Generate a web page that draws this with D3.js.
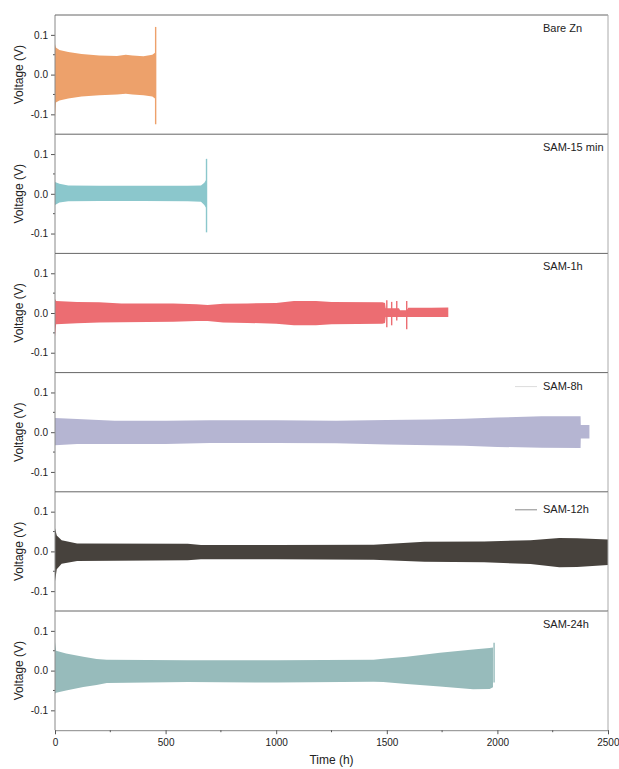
<!DOCTYPE html>
<html>
<head>
<meta charset="utf-8">
<script src="https://cdn.jsdelivr.net/npm/d3@7"></script>
<style>
  body { margin: 0; background: #fff; }
  text { font-family: Arial, "Liberation Sans", sans-serif; fill: #222; }
</style>
</head>
<body>
<svg width="619" height="769"></svg>
<script>
  // series names and colours
  const seriesNames = ['Bare Zn', 'SAM-15 min', 'SAM-1h', 'SAM-8h', 'SAM-12h', 'SAM-24h'];
  const seriesColors = ['#eda16b', '#8bc7cc', '#ec6d72', '#b5b5d2', '#47423d', '#97bbbb'];

  // envelopes of the cycling voltage: time (h), upper (V), lower (V)
  const bareZnTime  = [0, 4, 20, 60, 120, 200, 280, 320, 350, 400, 440, 452];
  const bareZnUpper = [0.077, 0.068, 0.062, 0.057, 0.052, 0.048, 0.047, 0.05, 0.048, 0.046, 0.05, 0.055];
  const bareZnLower = [-0.11, -0.07, -0.065, -0.06, -0.055, -0.052, -0.05, -0.048, -0.05, -0.052, -0.055, -0.06];

  const sam15Time  = [0, 20, 60, 200, 400, 600, 660, 675, 683];
  const sam15Upper = [0.03, 0.025, 0.021, 0.02, 0.02, 0.02, 0.021, 0.028, 0.035];
  const sam15Lower = [-0.028, -0.022, -0.019, -0.018, -0.018, -0.019, -0.02, -0.028, -0.035];

  const sam1Time  = [0, 5, 100, 200, 300, 535, 640, 690, 760, 870, 1000, 1080, 1180, 1250, 1480, 1492, 1495, 1555, 1560, 1590, 1597, 1700, 1778];
  const sam1Upper = [0.035, 0.03, 0.028, 0.027, 0.024, 0.024, 0.022, 0.02, 0.023, 0.024, 0.025, 0.03, 0.03, 0.028, 0.027, 0.025, 0.012, 0.012, 0.007, 0.007, 0.013, 0.013, 0.014];
  const sam1Lower = [-0.06, -0.028, -0.026, -0.024, -0.023, -0.022, -0.02, -0.02, -0.024, -0.025, -0.027, -0.031, -0.031, -0.028, -0.027, -0.025, -0.01, -0.01, -0.01, -0.01, -0.01, -0.01, -0.01];

  const sam8Time  = [0, 100, 270, 500, 700, 1000, 1270, 1500, 1700, 1850, 2000, 2200, 2376, 2377, 2416];
  const sam8Upper = [0.036, 0.033, 0.029, 0.029, 0.03, 0.03, 0.029, 0.031, 0.032, 0.034, 0.037, 0.04, 0.04, 0.018, 0.018];
  const sam8Lower = [-0.033, -0.03, -0.03, -0.03, -0.027, -0.027, -0.028, -0.031, -0.033, -0.034, -0.037, -0.039, -0.04, -0.016, -0.016];

  const sam12Time  = [0, 8, 30, 100, 600, 660, 1000, 1440, 1670, 1940, 2150, 2280, 2360, 2500];
  const sam12Upper = [0.058, 0.04, 0.028, 0.02, 0.019, 0.016, 0.016, 0.017, 0.024, 0.025, 0.028, 0.034, 0.033, 0.03];
  const sam12Lower = [-0.075, -0.045, -0.031, -0.024, -0.022, -0.02, -0.02, -0.021, -0.026, -0.027, -0.032, -0.04, -0.039, -0.034];

  const sam24Time  = [0, 5, 50, 128, 188, 234, 600, 1000, 1440, 1484, 1590, 1740, 1890, 1965, 1980];
  const sam24Upper = [0.072, 0.05, 0.043, 0.035, 0.029, 0.027, 0.026, 0.026, 0.027, 0.03, 0.035, 0.045, 0.053, 0.057, 0.058];
  const sam24Lower = [-0.058, -0.056, -0.05, -0.041, -0.036, -0.031, -0.029, -0.03, -0.028, -0.029, -0.034, -0.04, -0.047, -0.046, -0.042];

  // single spikes: panel index, time, top, bottom
  const spikePanel  = [0, 1, 2, 2, 2, 2, 5];
  const spikeTime   = [455, 685, 1500, 1522, 1545, 1590, 1985];
  const spikeTop    = [0.12, 0.088, 0.032, 0.028, 0.03, 0.03, 0.07];
  const spikeBottom = [-0.125, -0.097, -0.036, -0.031, -0.019, -0.041, -0.03];

  const yTicks = [-0.1, 0, 0.1];
  const yMinorTicks = [-0.05, 0.05];
  const xTicks = [0, 500, 1000, 1500, 2000, 2500];
  const xMinorTicks = [250, 750, 1250, 1750, 2250];

  const envelopes = [
    [bareZnTime, bareZnUpper, bareZnLower],
    [sam15Time, sam15Upper, sam15Lower],
    [sam1Time, sam1Upper, sam1Lower],
    [sam8Time, sam8Upper, sam8Lower],
    [sam12Time, sam12Upper, sam12Lower],
    [sam24Time, sam24Upper, sam24Lower]
  ];

  const svg = d3.select('svg');
  const plotLeft = 55, plotRight = 608, plotTop = 15, panelH = 119.2;

  const xScale = d3.scaleLinear().domain([0, 2500]).range([plotLeft, plotRight]);

  seriesNames.forEach((name, i) => {
    const y0 = plotTop + i * panelH;
    const yScale = d3.scaleLinear().domain([-0.15, 0.15]).range([y0 + panelH, y0]);
    const g = svg.append('g');

    const [t, up, lo] = envelopes[i];
    const pts = t.map((d, k) => ({ t: d, up: up[k], lo: lo[k] }));
    const area = d3.area()
      .x(d => xScale(d.t))
      .y0(d => yScale(d.lo))
      .y1(d => yScale(d.up));
    g.append('path')
      .datum(pts)
      .attr('d', area)
      .attr('fill', seriesColors[i]);

    spikeTime.forEach((st, k) => {
      if (spikePanel[k] !== i) return;
      g.append('line')
        .attr('x1', xScale(st)).attr('x2', xScale(st))
        .attr('y1', yScale(spikeTop[k])).attr('y2', yScale(spikeBottom[k]))
        .attr('stroke', seriesColors[i])
        .attr('stroke-width', 1.4);
    });

    // left axis
    const yAxis = d3.axisLeft(yScale)
      .tickValues(yTicks)
      .tickSize(4)
      .tickPadding(3)
      .tickFormat(d => d3.format('.1f')(d).replace('−', '-'));
    const yAxisG = g.append('g')
      .attr('transform', `translate(${plotLeft},0)`)
      .call(yAxis);
    yAxisG.select('.domain').remove();
    yAxisG.selectAll('line').attr('stroke', '#555');
    yAxisG.selectAll('text').attr('font-size', 10).attr('fill', '#222');
    yMinorTicks.forEach(v => {
      g.append('line')
        .attr('x1', plotLeft - 2).attr('x2', plotLeft)
        .attr('y1', yScale(v)).attr('y2', yScale(v))
        .attr('stroke', '#555');
    });

    // frame
    g.append('line')
      .attr('x1', plotLeft).attr('x2', plotLeft)
      .attr('y1', y0).attr('y2', y0 + panelH)
      .attr('stroke', '#888');
    g.append('line')
      .attr('x1', plotLeft).attr('x2', plotRight)
      .attr('y1', y0).attr('y2', y0)
      .attr('stroke', '#666');
    g.append('line')
      .attr('x1', plotRight).attr('x2', plotRight)
      .attr('y1', y0).attr('y2', y0 + panelH)
      .attr('stroke', '#aaa');

    g.append('text')
      .attr('transform', `translate(20,${y0 + panelH / 2}) rotate(-90)`)
      .attr('text-anchor', 'middle')
      .attr('dominant-baseline', 'middle')
      .attr('font-size', 12)
      .text('Voltage (V)');

    // legend
    const ly = y0 + (i === 4 ? 18 : 14);
    if (i === 3 || i === 4) {
      g.append('line')
        .attr('x1', 515).attr('x2', 537)
        .attr('y1', ly).attr('y2', ly)
        .attr('stroke', i === 3 ? '#dcdcdc' : '#8a8a8a');
    }
    g.append('text')
      .attr('x', 543)
      .attr('y', ly)
      .attr('dominant-baseline', 'middle')
      .attr('font-size', 11)
      .text(name);
  });

  // bottom axis
  const plotBottom = plotTop + 6 * panelH;
  const xAxis = d3.axisBottom(xScale)
    .tickValues(xTicks)
    .tickSize(4)
    .tickPadding(5)
    .tickFormat(d3.format('d'));
  const xAxisG = svg.append('g')
    .attr('transform', `translate(0,${plotBottom})`)
    .call(xAxis);
  xAxisG.select('.domain').attr('stroke', '#888');
  xAxisG.selectAll('line').attr('stroke', '#555');
  xAxisG.selectAll('text').attr('font-size', 10).attr('fill', '#222');
  // keep the last label inside the window
  xAxisG.selectAll('.tick').filter(d => d === 2500).select('text')
    .attr('text-anchor', 'end').attr('x', 11);
  xMinorTicks.forEach(v => {
    svg.append('line')
      .attr('x1', xScale(v)).attr('x2', xScale(v))
      .attr('y1', plotBottom).attr('y2', plotBottom + 2)
      .attr('stroke', '#555');
  });

  svg.append('text')
    .attr('x', (plotLeft + plotRight) / 2)
    .attr('y', 764)
    .attr('text-anchor', 'middle')
    .attr('font-size', 12)
    .text('Time (h)');
</script>
</body>
</html>
